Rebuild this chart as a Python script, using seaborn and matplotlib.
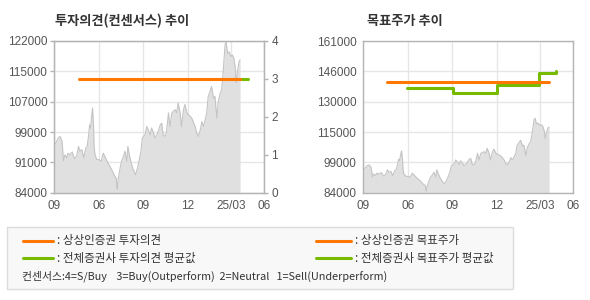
import matplotlib
matplotlib.use("Agg")
import matplotlib.pyplot as plt
import seaborn as sns
import pandas as pd
import numpy as np
from matplotlib.patches import Rectangle
from matplotlib.lines import Line2D

sns.set_style("white")
plt.rcParams['font.family'] = ['Noto Sans CJK KR', 'DejaVu Sans']

# ---- data ----
price_day = [0, 3, 8, 12, 16, 19, 22, 26, 28, 32, 37, 42, 46, 50, 53, 57, 61, 65, 68, 71, 73, 75,
             77, 79, 81, 82, 84, 88, 92, 97, 101, 106, 111, 115, 120, 125, 128, 130, 132, 136,
             139, 143, 146, 150, 152, 155, 159, 163, 168, 172, 175, 179, 182, 185, 188, 191, 194,
             198, 201, 205, 208, 212, 215, 219, 222, 225, 229, 232, 236, 239, 243, 246, 250, 253,
             256, 260, 263, 267, 270, 274, 277, 281, 284, 287, 291, 294, 298, 301, 305, 308, 312,
             315, 318, 322, 325, 329, 332, 336, 339, 343, 346, 349, 353, 355, 358, 361, 365, 368,
             371, 374, 376, 379, 382, 384]
price_val = [96000, 96400, 97700, 98100, 96900, 92000, 93500, 92700, 93900, 93500, 94200, 92500,
             93100, 95600, 94400, 94800, 92700, 95200, 95600, 98500, 101000, 100200, 103100, 105200,
             101000, 96000, 93500, 92300, 92300, 91900, 93900, 92700, 91400, 90600, 89400, 88100,
             87700, 84800, 87300, 90200, 91900, 93100, 94400, 91900, 95600, 93500, 91400, 89800,
             88500, 90200, 91900, 94400, 97700, 98100, 98700, 100600, 99800, 98500, 100200, 99000,
             97700, 98500, 99400, 101000, 101400, 98500, 98100, 99400, 104000, 100600, 104000,
             104400, 104800, 104000, 106500, 104000, 100600, 104800, 106100, 104000, 103500, 103100,
             102700, 101800, 100600, 99000, 98100, 99400, 101800, 100600, 102300, 104000, 108100,
             109400, 110600, 107700, 108100, 102700, 106900, 109000, 109800, 114400, 121100, 121800,
             118900, 119300, 118100, 118500, 117700, 115200, 111500, 114800, 116900, 117300]

# investment opinion (0-4 scale)
op_firm_day = [51, 383]
op_firm_val = [3, 3]
op_avg_day = [383, 401]
op_avg_val = [3, 3]

# target price
tp_firm_day = [50, 383]
tp_firm_val = [140000, 140000]
tp_avg_day = [91, 185, 276, 363, 399]
tp_avg_val = [137000, 134700, 138700, 144600, 145700]

x_ticks = [0, 92, 184, 276, 366, 434]
x_labels = ['09', '06', '09', '12', '25/03', '06']
left_ylabels = ['84000', '91000', '99000', '107000', '115000', '122000']
right_ylabels = ['84000', '99000', '115000', '130000', '146000', '161000']
op_ticks = [0, 1, 2, 3, 4]

ORANGE = '#FF7700'
GREEN = '#77BB00'
GRID = '#e6e6e6'
SPINE = '#b4b4b4'
TICKC = '#555555'
FILL = '#e0e0e0'
PLINE = '#c4c4c4'
LW = 2.2

price = pd.DataFrame({'day': price_day, 'price': price_val})

fig = plt.figure(figsize=(5.9, 3.0), dpi=100)
ax1 = fig.add_axes([54.3/590, 1-192.7/300, 210/590, 151.7/300])
ax2 = fig.add_axes([363.3/590, 1-192.7/300, 210/590, 151.7/300])

def style(ax, ymin, ymax, ylabels):
    ax.set_xlim(0, 434)
    ax.set_ylim(ymin, ymax)
    yt = np.linspace(ymin, ymax, 6)
    ax.set_yticks(yt)
    ax.set_yticklabels(ylabels)
    ax.set_xticks(x_ticks)
    ax.set_xticklabels(x_labels)
    ax.grid(True, color=GRID, linewidth=1)
    ax.set_axisbelow(True)
    for s in ax.spines.values():
        s.set_color(SPINE)
        s.set_linewidth(1)
    ax.tick_params(axis='both', colors=SPINE, labelcolor=TICKC, labelsize=8.5,
                   length=3, width=1, pad=2)
    for lab in ax.get_xticklabels() + ax.get_yticklabels():
        lab.set_family(['Liberation Sans', 'DejaVu Sans'])
    ax.set_xlabel('')
    ax.set_ylabel('')

# ---- left chart ----
ax1.fill_between(price['day'], price['price'], 84000, color=FILL, linewidth=0, zorder=1)
sns.lineplot(data=price, x='day', y='price', ax=ax1, color=PLINE, linewidth=0.8, zorder=2)
style(ax1, 84000, 122000, left_ylabels)
ax1b = ax1.twinx()
sns.lineplot(x=op_firm_day, y=op_firm_val, ax=ax1b, color=ORANGE, linewidth=LW, zorder=4)
sns.lineplot(x=op_avg_day, y=op_avg_val, ax=ax1b, color=GREEN, linewidth=LW, zorder=3)
ax1b.set_ylim(0, 4)
ax1b.set_yticks(op_ticks)
ax1b.set_yticklabels([str(t) for t in op_ticks])
ax1b.set_xlim(0, 434)
for s in ax1b.spines.values():
    s.set_color(SPINE)
ax1b.tick_params(axis='y', colors=SPINE, labelcolor=TICKC, labelsize=8.5, length=3, width=1, pad=2)
for lab in ax1b.get_yticklabels():
    lab.set_family(['Liberation Sans', 'DejaVu Sans'])
ax1b.set_ylabel('')

# ---- right chart ----
ax2.fill_between(price['day'], price['price'], 84000, color=FILL, linewidth=0, zorder=1)
sns.lineplot(data=price, x='day', y='price', ax=ax2, color=PLINE, linewidth=0.8, zorder=2)
sns.lineplot(x=tp_firm_day, y=tp_firm_val, ax=ax2, color=ORANGE, linewidth=LW, zorder=4)
sns.lineplot(x=tp_avg_day, y=tp_avg_val, ax=ax2, color=GREEN, linewidth=LW, zorder=3,
             drawstyle='steps-post')
style(ax2, 84000, 161000, right_ylabels)

# ---- titles ----
fig.text(55/590, 1-21/300, '투자의견(컨센서스) 추이', fontsize=9.5, fontweight='bold',
         color='#333333', va='center', ha='left')
fig.text(367/590, 1-21/300, '목표주가 추이', fontsize=9.5, fontweight='bold',
         color='#333333', va='center', ha='left')

# ---- legend box ----
fig.patches.append(Rectangle((7.3/590, 1-289.3/300), (513.3-7.3)/590, 62/300,
                             transform=fig.transFigure, facecolor='#f8f8f8',
                             edgecolor='#dcdcdc', linewidth=1))
items = [
    (22.7, 53.3, 240.7, ORANGE, ': 상상인증권 투자의견'),
    (22.7, 53.3, 258.3, GREEN, ': 전체증권사 투자의견 평균값'),
    (316, 351, 240.7, ORANGE, ': 상상인증권 목표주가'),
    (316, 351, 258.3, GREEN, ': 전체증권사 목표주가 평균값'),
]
for x0, x1, y, c, t in items:
    fig.lines.append(Line2D([x0/590, x1/590], [1-y/300, 1-y/300], transform=fig.transFigure,
                            color=c, linewidth=LW))
    fig.text((x1+4)/590, 1-y/300, t, fontsize=8.3, color='#333333', va='center', ha='left')
fig.text(21.7/590, 1-276.7/300,
         '컨센서스:4=S/Buy    3=Buy(Outperform)  2=Neutral   1=Sell(Underperform)',
         fontsize=7.8, color='#333333', va='center', ha='left')

fig.savefig('out.png', dpi=100)
